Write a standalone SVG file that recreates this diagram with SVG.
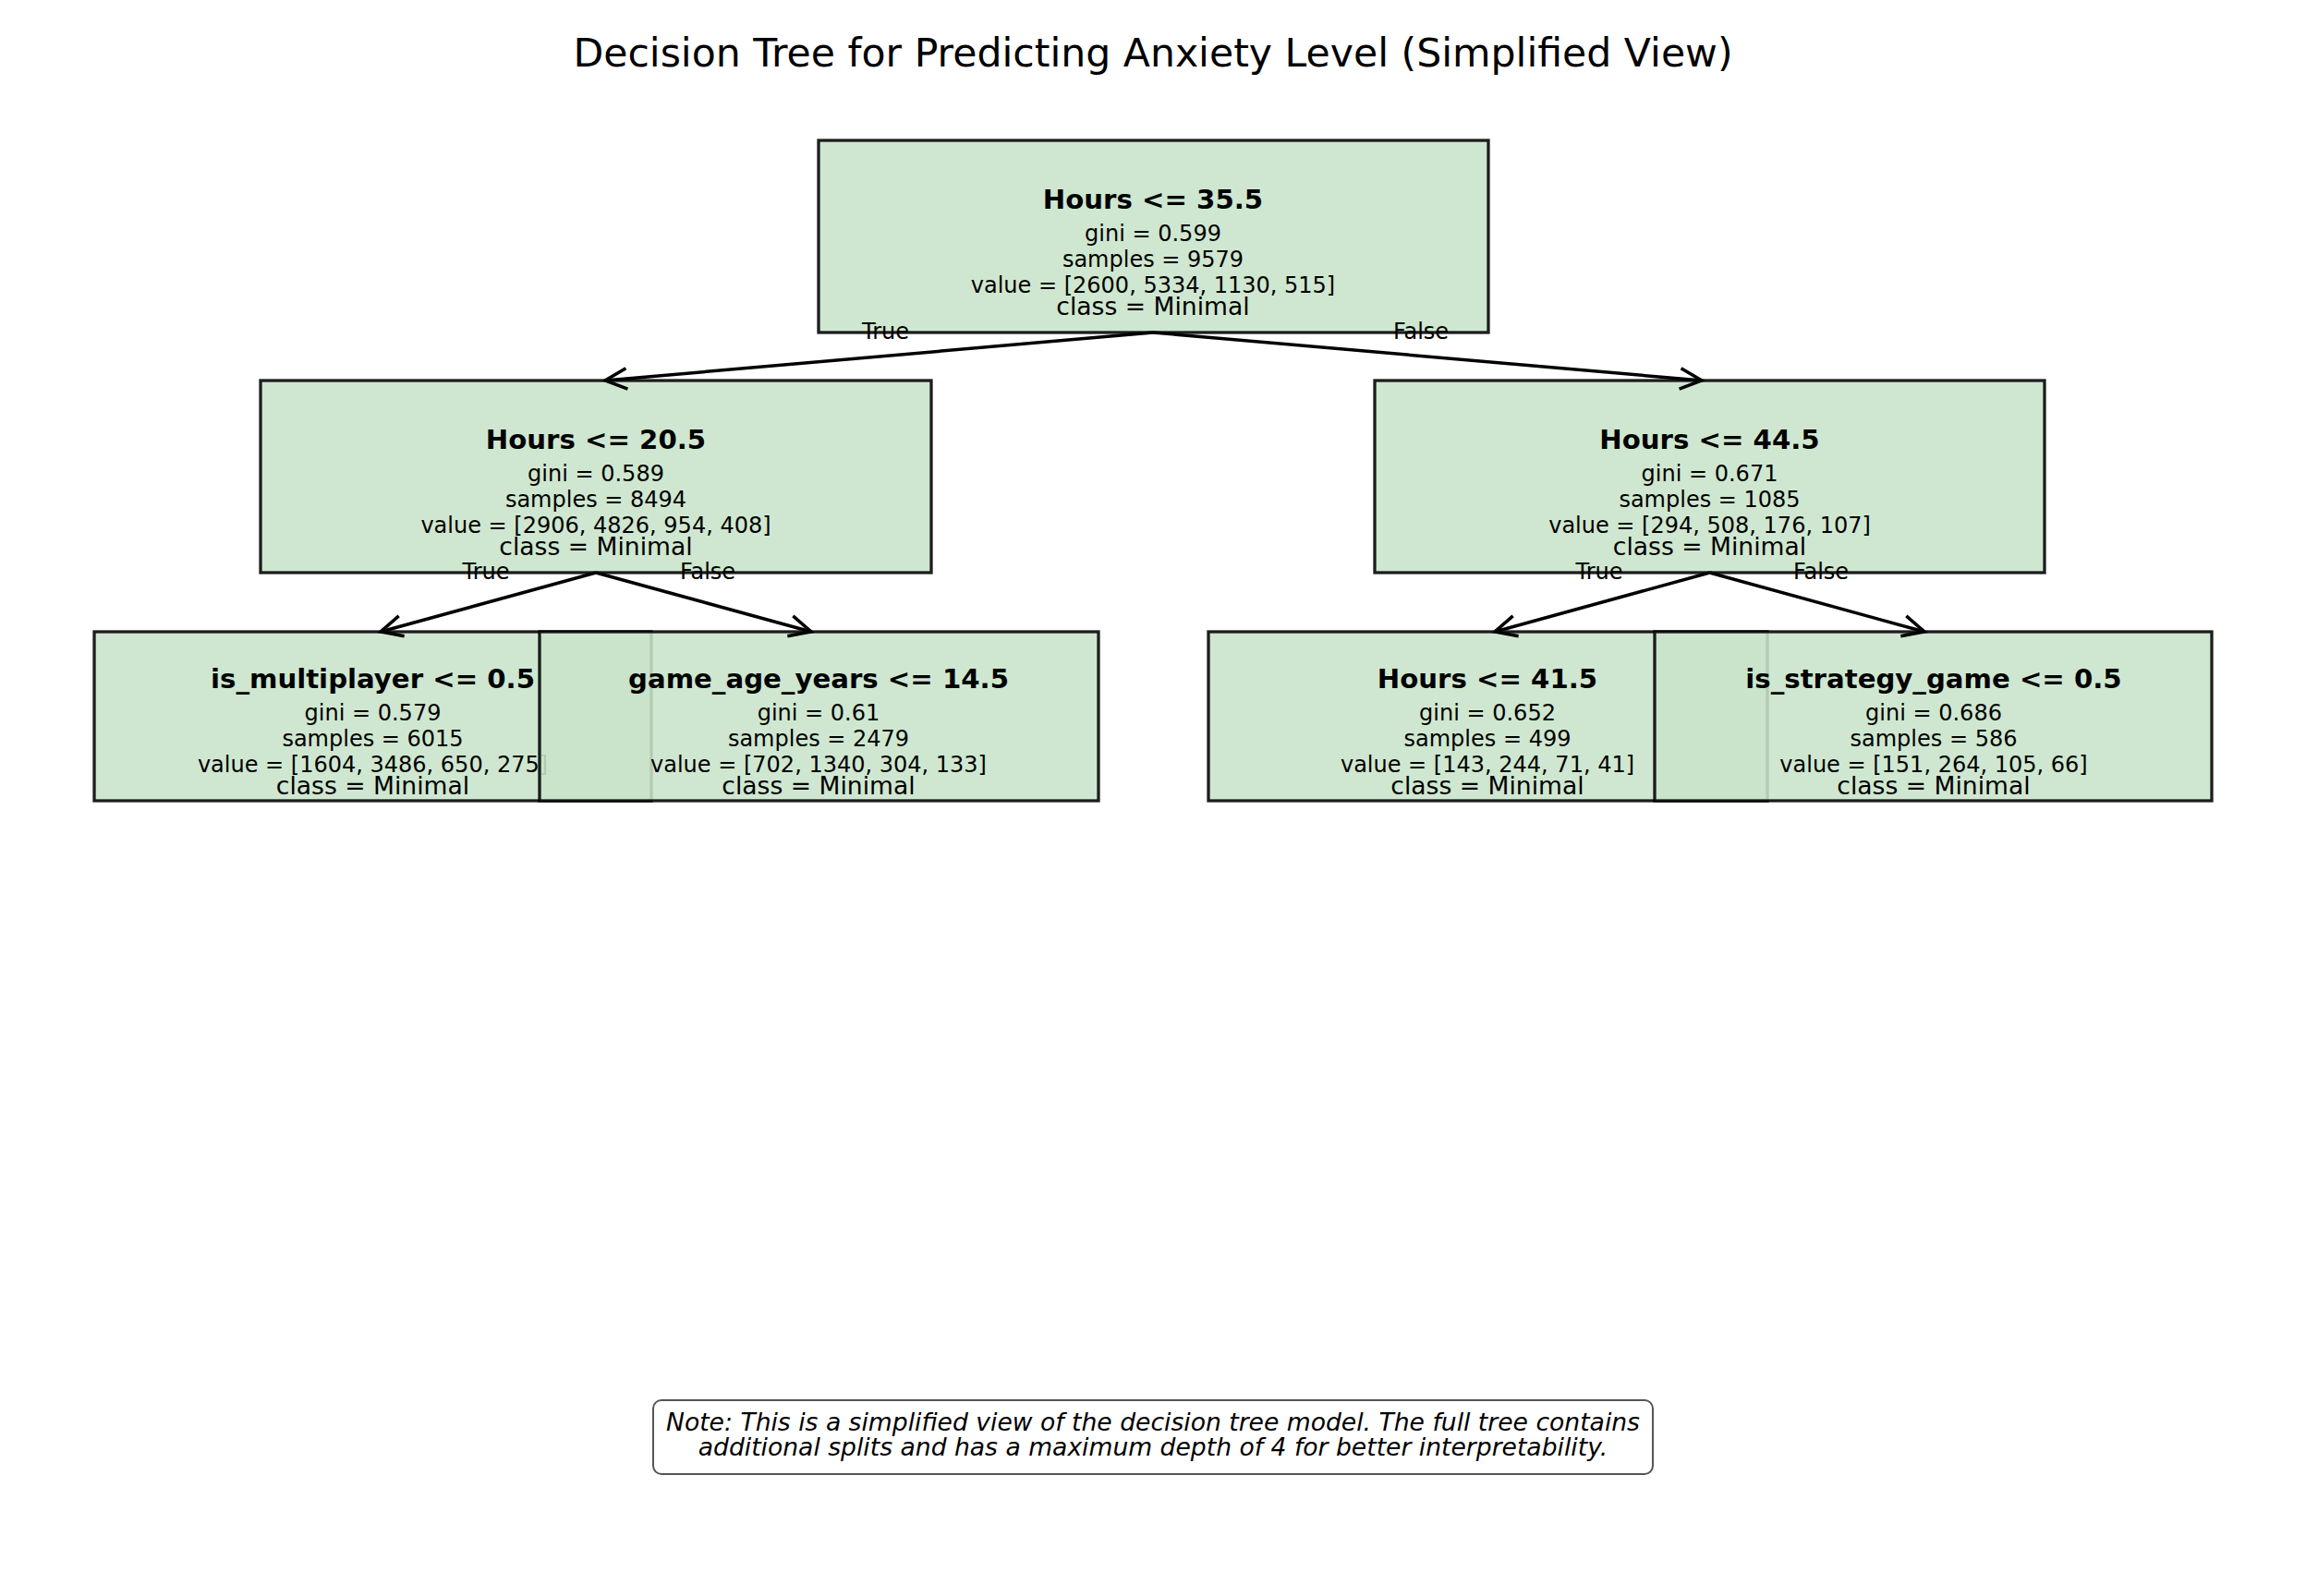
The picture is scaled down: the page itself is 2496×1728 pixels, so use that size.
<svg xmlns="http://www.w3.org/2000/svg" width="2496" height="1728" viewBox="0 0 2496 1728">
<style>
text{font-family:"DejaVu Sans","Liberation Sans",sans-serif;fill:#000;text-anchor:middle}
.title{font-size:42.6px}
.feat{font-size:29.2px;font-weight:bold}
.stat{font-size:24px}
.cls{font-size:26.6px}
.edge-lbl{font-size:24px}
.note{font-size:26.6px;font-style:italic}
.box{fill:#c8e4ca;fill-opacity:0.88;stroke:#000;stroke-opacity:0.88;stroke-width:3.3}
.conn{stroke:#000;stroke-width:3.5;fill:none;marker-end:url(#arr)}
</style>
<defs>
<marker id="arr" markerUnits="userSpaceOnUse" orient="auto" markerWidth="40" markerHeight="40" refX="0" refY="0" viewBox="-30 -20 40 40" overflow="visible">
<path d="M -23.5 -11.3 L 0 0 L -23.5 11.3" fill="none" stroke="#000" stroke-width="3.5" stroke-linejoin="miter"/>
</marker>
</defs>
<rect width="2496" height="1728" fill="#fff"/>
<text class="title" x="1248" y="72">Decision Tree for Predicting Anxiety Level (Simplified View)</text>

<g id="node-root">
<rect class="box" x="886" y="152" width="725" height="208"/>
<text class="feat" x="1248" y="226">Hours &lt;= 35.5</text>
<text class="stat" x="1248" y="260.5">gini = 0.599</text>
<text class="stat" x="1248" y="288.5">samples = 9579</text>
<text class="stat" x="1248" y="316.7">value = [2600, 5334, 1130, 515]</text>
<text class="cls" x="1248" y="340.7">class = Minimal</text>
</g>

<g id="node-left">
<rect class="box" x="282" y="412" width="726" height="208"/>
<text class="feat" x="645" y="486">Hours &lt;= 20.5</text>
<text class="stat" x="645" y="520.5">gini = 0.589</text>
<text class="stat" x="645" y="548.5">samples = 8494</text>
<text class="stat" x="645" y="576.7">value = [2906, 4826, 954, 408]</text>
<text class="cls" x="645" y="600.7">class = Minimal</text>
</g>

<g id="node-right">
<rect class="box" x="1488" y="412" width="725" height="208"/>
<text class="feat" x="1850.5" y="486">Hours &lt;= 44.5</text>
<text class="stat" x="1850.5" y="520.5">gini = 0.671</text>
<text class="stat" x="1850.5" y="548.5">samples = 1085</text>
<text class="stat" x="1850.5" y="576.7">value = [294, 508, 176, 107]</text>
<text class="cls" x="1850.5" y="600.7">class = Minimal</text>
</g>

<g id="node-ll">
<rect class="box" x="102" y="684" width="603" height="183"/>
<text class="feat" x="403.5" y="744.5">is_multiplayer &lt;= 0.5</text>
<text class="stat" x="403.5" y="780">gini = 0.579</text>
<text class="stat" x="403.5" y="808">samples = 6015</text>
<text class="stat" x="403.5" y="836.2">value = [1604, 3486, 650, 275]</text>
<text class="cls" x="403.5" y="860.2">class = Minimal</text>
</g>

<g id="node-lr">
<rect class="box" x="584" y="684" width="605" height="183"/>
<text class="feat" x="886" y="744.5">game_age_years &lt;= 14.5</text>
<text class="stat" x="886" y="780">gini = 0.61</text>
<text class="stat" x="886" y="808">samples = 2479</text>
<text class="stat" x="886" y="836.2">value = [702, 1340, 304, 133]</text>
<text class="cls" x="886" y="860.2">class = Minimal</text>
</g>

<g id="node-rl">
<rect class="box" x="1308" y="684" width="605" height="183"/>
<text class="feat" x="1610" y="744.5">Hours &lt;= 41.5</text>
<text class="stat" x="1610" y="780">gini = 0.652</text>
<text class="stat" x="1610" y="808">samples = 499</text>
<text class="stat" x="1610" y="836.2">value = [143, 244, 71, 41]</text>
<text class="cls" x="1610" y="860.2">class = Minimal</text>
</g>

<g id="node-rr">
<rect class="box" x="1791" y="684" width="603" height="183"/>
<text class="feat" x="2093" y="744.5">is_strategy_game &lt;= 0.5</text>
<text class="stat" x="2093" y="780">gini = 0.686</text>
<text class="stat" x="2093" y="808">samples = 586</text>
<text class="stat" x="2093" y="836.2">value = [151, 264, 105, 66]</text>
<text class="cls" x="2093" y="860.2">class = Minimal</text>
</g>

<g id="connectors">
<line class="conn" x1="1248" y1="360" x2="655" y2="412"/>
<line class="conn" x1="1248" y1="360" x2="1842" y2="412"/>
<line class="conn" x1="645" y1="620" x2="412" y2="684"/>
<line class="conn" x1="645" y1="620" x2="878" y2="684"/>
<line class="conn" x1="1850.5" y1="620" x2="1618" y2="684"/>
<line class="conn" x1="1850.5" y1="620" x2="2083" y2="684"/>
<text class="edge-lbl" x="958.5" y="366.5">True</text>
<text class="edge-lbl" x="1538" y="366.5">False</text>
<text class="edge-lbl" x="526" y="627">True</text>
<text class="edge-lbl" x="766" y="627">False</text>
<text class="edge-lbl" x="1731" y="627">True</text>
<text class="edge-lbl" x="1971" y="627">False</text>
</g>

<g id="note">
<rect x="707" y="1516" width="1082" height="80" rx="9" ry="9" fill="#fff" stroke="#555" stroke-width="2"/>
<text class="note" x="1248" y="1549">Note: This is a simplified view of the decision tree model. The full tree contains</text>
<text class="note" x="1248" y="1576">additional splits and has a maximum depth of 4 for better interpretability.</text>
</g>
</svg>
